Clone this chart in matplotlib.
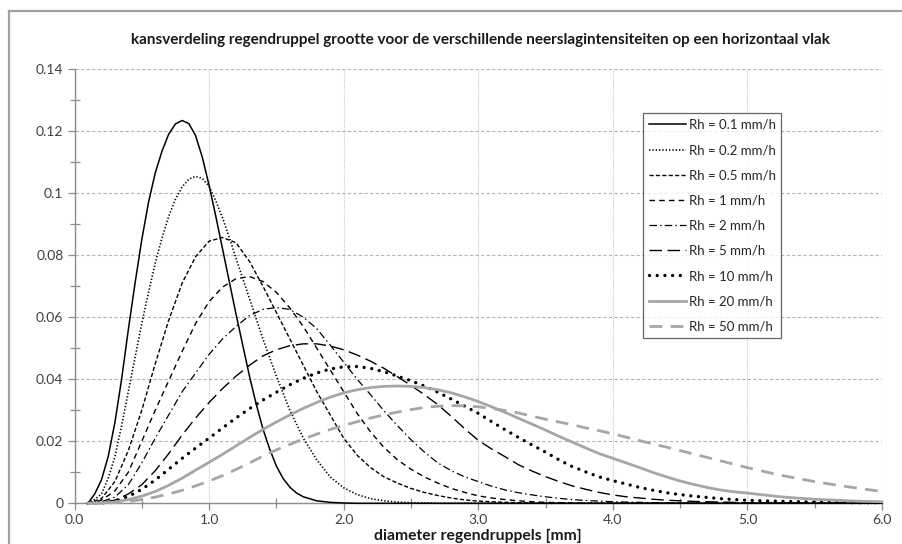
import matplotlib
matplotlib.use("Agg")
import matplotlib.pyplot as plt
from matplotlib.lines import Line2D
from matplotlib.ticker import MultipleLocator, FormatStrFormatter

plt.rcParams['font.family'] = ['Lato', 'DejaVu Sans']

# ---------------- data ----------------
# common diameter grid [mm]
diameters = [0.1, 0.2, 0.3, 0.4, 0.5, 0.6, 0.7, 0.8, 0.9, 1.0,
             1.1, 1.2, 1.3, 1.4, 1.5, 1.6, 1.7, 1.8, 1.9, 2.0,
             2.1, 2.2, 2.3, 2.4, 2.5, 2.6, 2.7, 2.8, 2.9, 3.0,
             3.1, 3.2, 3.3, 3.4, 3.5, 3.6, 3.7, 3.8, 3.9, 4.0,
             4.1, 4.2, 4.3, 4.4, 4.5, 4.6, 4.7, 4.8, 4.9, 5.0,
             5.1, 5.2, 5.3, 5.4, 5.5, 5.6, 5.7, 5.8, 5.9, 6.0]

# finer diameter grid used for the two narrow, peaked curves
diameters_fine = [0.1, 0.15, 0.2, 0.25, 0.3, 0.35, 0.4, 0.45, 0.5, 0.55,
                  0.6, 0.65, 0.7, 0.75, 0.8, 0.85, 0.9, 0.95, 1.0, 1.05,
                  1.1, 1.15, 1.2, 1.25, 1.3, 1.35, 1.4, 1.45, 1.5, 1.55,
                  1.6, 1.65, 1.7, 1.8, 1.9, 2.0, 2.1, 2.2, 2.3, 2.4,
                  2.5, 2.6, 2.7, 2.8, 2.9, 3.0, 3.5, 4.0, 4.5, 5.0, 5.5, 6.0]

rh_0_1 = [0, 0.003, 0.0075, 0.015, 0.026, 0.040, 0.056, 0.071, 0.085, 0.097,
          0.1065, 0.1135, 0.119, 0.1223, 0.1234, 0.1224, 0.1185, 0.1115, 0.1025, 0.0925,
          0.082, 0.0715, 0.061, 0.051, 0.041, 0.032, 0.024, 0.0175, 0.012, 0.008,
          0.0052, 0.0033, 0.0021, 0.0008, 0.0003, 0.0001, 0, 0, 0, 0,
          0, 0, 0, 0, 0, 0, 0, 0, 0, 0, 0, 0]
rh_0_2 = [0, 0.0012, 0.003, 0.008, 0.015, 0.025, 0.036, 0.047, 0.058, 0.068,
          0.0775, 0.0855, 0.0925, 0.098, 0.102, 0.1045, 0.1054, 0.1047, 0.1022, 0.0975,
          0.092, 0.0857, 0.079, 0.0725, 0.066, 0.0595, 0.053, 0.047, 0.041, 0.0355,
          0.030, 0.0255, 0.021, 0.014, 0.0085, 0.005, 0.0028, 0.0015, 0.0008, 0.0004,
          0.0002, 0.0001, 0, 0, 0, 0, 0, 0, 0, 0, 0, 0]
rh_0_5 = [0, 0.0015, 0.007, 0.017, 0.030, 0.045, 0.059, 0.071, 0.0795, 0.0845,
          0.0857, 0.084, 0.078, 0.070, 0.0615, 0.053, 0.0445, 0.036, 0.0285, 0.021,
          0.0155, 0.0115, 0.0085, 0.0065, 0.0048, 0.0035, 0.0025, 0.0017, 0.0011, 0.0007,
          0.0005, 0.0003, 0.0002, 0.0001]
rh_1 = [0, 0.001, 0.004, 0.010, 0.020, 0.030, 0.0395, 0.049, 0.058, 0.065,
        0.0697, 0.0724, 0.0731, 0.0715, 0.068, 0.063, 0.057, 0.050, 0.043, 0.036,
        0.029, 0.023, 0.018, 0.014, 0.011, 0.0085, 0.0065, 0.0048, 0.0035, 0.0024,
        0.0017, 0.0012, 0.0008, 0.0005, 0.0003, 0.0002, 0.0001]
rh_2 = [0, 0.0005, 0.002, 0.006, 0.013, 0.021, 0.0285, 0.036, 0.042, 0.048,
        0.053, 0.057, 0.0605, 0.0625, 0.0631, 0.0625, 0.060, 0.0563, 0.051, 0.0455,
        0.040, 0.035, 0.0298, 0.025, 0.0205, 0.0165, 0.013, 0.0105, 0.0085, 0.0070,
        0.0055, 0.0043, 0.0034, 0.0027, 0.0021, 0.0016, 0.0012, 0.0009, 0.0007, 0.0005,
        0.0004, 0.0003, 0.0002, 0.0001, 0.0001]
rh_5 = [0, 0.0003, 0.001, 0.003, 0.006, 0.0105, 0.016, 0.022, 0.0275, 0.0325,
        0.037, 0.041, 0.0445, 0.0475, 0.0495, 0.0508, 0.0514, 0.0514, 0.0507, 0.0495,
        0.0478, 0.0458, 0.0435, 0.0408, 0.038, 0.035, 0.0318, 0.028, 0.024, 0.0203,
        0.0175, 0.015, 0.0124, 0.0104, 0.0086, 0.007, 0.0056, 0.0045, 0.0035, 0.0027,
        0.0021, 0.0017, 0.0013, 0.001, 0.0008, 0.0006, 0.0005, 0.0004, 0.0003, 0.0002,
        0.0002, 0.0001, 0.0001]
rh_10 = [0, 0.0001, 0.0006, 0.0022, 0.0045, 0.0075, 0.011, 0.0145, 0.0178, 0.021,
         0.0243, 0.0275, 0.0305, 0.0333, 0.0358, 0.0382, 0.0403, 0.042, 0.0433, 0.044,
         0.0441, 0.0435, 0.0424, 0.041, 0.0395, 0.0378, 0.0358, 0.0336, 0.0313, 0.029,
         0.0263, 0.0237, 0.0212, 0.0188, 0.0165, 0.014, 0.0118, 0.0101, 0.0085, 0.0073,
         0.0062, 0.0051, 0.0042, 0.0034, 0.0028, 0.0023, 0.0019, 0.0015, 0.0012, 0.001,
         0.0008, 0.0007, 0.0006, 0.0005, 0.0004, 0.0003, 0.0003, 0.0002, 0.0002, 0.0002]
rh_20 = [0, 0.0001, 0.0004, 0.0012, 0.0023, 0.0038, 0.0058, 0.0081, 0.0107, 0.0132,
         0.0158, 0.0185, 0.0212, 0.0238, 0.0262, 0.0285, 0.0306, 0.0325, 0.0342, 0.0356,
         0.0366, 0.0373, 0.0377, 0.0378, 0.0377, 0.0373, 0.0366, 0.0356, 0.0343, 0.0328,
         0.0311, 0.0293, 0.0274, 0.0255, 0.0236, 0.0216, 0.0197, 0.0178, 0.016, 0.0145,
         0.013, 0.0115, 0.0099, 0.0085, 0.0072, 0.0061, 0.0051, 0.0043, 0.0037, 0.0033,
         0.0028, 0.0023, 0.0019, 0.0016, 0.0013, 0.0011, 0.0009, 0.0007, 0.0006, 0.0005]
rh_50 = [0, 0, 0.0002, 0.0006, 0.0012, 0.002, 0.003, 0.0042, 0.0056, 0.0072,
         0.0089, 0.0109, 0.013, 0.0152, 0.0172, 0.019, 0.0207, 0.0223, 0.0238, 0.0251,
         0.0263, 0.0275, 0.0285, 0.0294, 0.0302, 0.0309, 0.0313, 0.0315, 0.0314, 0.0311,
         0.0306, 0.0299, 0.0291, 0.0281, 0.0271, 0.0262, 0.0253, 0.0243, 0.0234, 0.0224,
         0.0213, 0.0202, 0.0191, 0.0181, 0.017, 0.0159, 0.0148, 0.0137, 0.0126, 0.0115,
         0.0105, 0.0095, 0.0086, 0.0078, 0.007, 0.0063, 0.0056, 0.005, 0.0044, 0.0038]

labels = ["Rh = 0.1 mm/h", "Rh = 0.2 mm/h", "Rh = 0.5 mm/h", "Rh = 1 mm/h",
          "Rh = 2 mm/h", "Rh = 5 mm/h", "Rh = 10 mm/h", "Rh = 20 mm/h", "Rh = 50 mm/h"]
series = [rh_0_1, rh_0_2, rh_0_5, rh_1, rh_2, rh_5, rh_10, rh_20, rh_50]
x_grids = [diameters_fine, diameters_fine] + [diameters] * 7

title = "kansverdeling regendruppel grootte voor de verschillende neerslagintensiteiten op een horizontaal vlak"
xlabel = "diameter regendruppels [mm]"

# ---------------- styles ----------------
GRAY = "#A6A6A6"
styles = [
    dict(color="black", lw=1.1, ls="-"),
    dict(color="black", lw=1.2, ls=(0, (0.8, 1.2))),
    dict(color="black", lw=1.0, ls=(0, (3.0, 1.6))),
    dict(color="black", lw=1.0, ls=(0, (4.0, 3.0))),
    dict(color="black", lw=0.9, ls=(0, (6.0, 2.5, 1.2, 2.5))),
    dict(color="black", lw=1.0, ls=(0, (9.0, 4.0))),
    dict(color="black", lw=2.4, ls=(0, (0.01, 2.3)), dash_capstyle="round"),
    dict(color=GRAY, lw=2.0, ls="-"),
    dict(color=GRAY, lw=2.0, ls=(0, (4.6, 3.0))),
]

fig = plt.figure(figsize=(9.02, 5.44), dpi=100)
ax = fig.add_axes([74.5 / 902, 1 - 503.3 / 544, (882 - 74.5) / 902, (503.3 - 69) / 544])

for xs, s, lab, st in zip(x_grids, series, labels, styles):
    y = s + [0.0] * (len(xs) - len(s))
    ax.plot(xs, y, label=lab, clip_on=False, zorder=3, **st)

ax.set_xlim(0, 6.0)
ax.set_ylim(0, 0.14)
ax.xaxis.set_major_locator(MultipleLocator(1.0))
ax.xaxis.set_minor_locator(MultipleLocator(0.5))
ax.yaxis.set_major_locator(MultipleLocator(0.02))
ax.yaxis.set_minor_locator(MultipleLocator(0.01))
ax.xaxis.set_major_formatter(FormatStrFormatter('%.1f'))


def yfmt(v, pos):
    if abs(v) < 1e-9:
        return "0"
    return ("%.2f" % v).rstrip('0')


ax.yaxis.set_major_formatter(plt.FuncFormatter(yfmt))

ax.grid(which='major', axis='y', color='#B4B4B4', lw=0.8, ls=(0, (3, 2)), zorder=0)
ax.grid(which='major', axis='x', color='#C8C8C8', lw=0.8, ls=(0, (1, 1)), zorder=0)

for sp in ['top', 'right']:
    ax.spines[sp].set_visible(False)
for sp in ['left', 'bottom']:
    ax.spines[sp].set_color('#8C8C8C')
    ax.spines[sp].set_linewidth(1.0)

ax.tick_params(which='major', direction='out', length=5, width=0.9, color='#8C8C8C',
               labelsize=10, labelcolor='#404040', pad=3)
ax.tick_params(which='minor', direction='inout', length=7, width=0.9, color='#8C8C8C')

fig.text(478 / 902, 1 - 536 / 544, xlabel, ha='center', va='center', fontsize=11.3,
         fontweight='bold', color='#1a1a1a')

fig.text(480.5 / 902, 1 - 40 / 544, title, ha='center', va='center', fontsize=11.0,
         fontweight='bold', color='#1a1a1a')

leg = ax.legend(loc='upper left', bbox_to_anchor=((643 - 74.5) / (882 - 74.5), (503.3 - 113) / (503.3 - 69)),
                borderaxespad=0, fontsize=9.5, frameon=True, fancybox=False,
                handlelength=2.8, labelspacing=1.0, borderpad=0.45, handletextpad=0.2)
leg.get_frame().set_edgecolor('#404040')
leg.get_frame().set_linewidth(0.9)
leg.set_zorder(5)
for t in leg.get_texts():
    t.set_color('#262626')

# outer chart-area border (gray, continues beyond the picture)
fig.add_artist(Line2D([8.5 / 902, 1.0], [1 - 10.5 / 544, 1 - 10.5 / 544],
                      transform=fig.transFigure, color='#A0A0A0', lw=1.6))
fig.add_artist(Line2D([8.5 / 902, 8.5 / 902], [0.0, 1 - 10.5 / 544],
                      transform=fig.transFigure, color='#A0A0A0', lw=1.6))

fig.savefig("out.png", dpi=100)
